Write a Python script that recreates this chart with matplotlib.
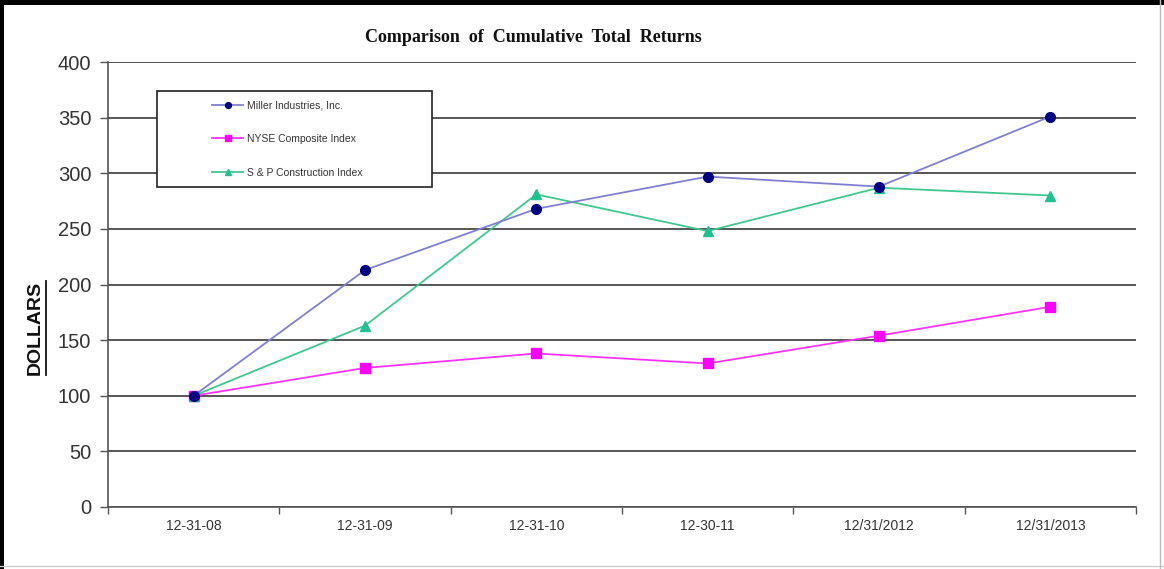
import matplotlib
matplotlib.use("Agg")
import matplotlib.pyplot as plt
from matplotlib.patches import Rectangle
from matplotlib.lines import Line2D
import numpy as np

DATES = ["12-31-08", "12-31-09", "12-31-10", "12-30-11", "12/31/2012", "12/31/2013"]
MILLER = [100, 213, 268, 297, 288, 351]
NYSE = [100, 125, 138, 129, 154, 180]
SP_CONSTR = [100, 163, 281, 248, 287, 280]
Y_TICKS = [0, 50, 100, 150, 200, 250, 300, 350, 400]

plt.rcParams["font.family"] = ["Liberation Sans", "DejaVu Sans"]

fig = plt.figure(figsize=(11.64, 5.69), dpi=100)
fig.patch.set_facecolor("white")
ax = fig.add_axes([108 / 1164, 1 - 507 / 569, 1028 / 1164, 445 / 569])

x = np.arange(len(DATES))
ax.plot(x, MILLER, color="#8080d0", lw=1.3, marker="o", ms=7,
        mfc="#000080", mec="#000080", zorder=4, label="Miller Industries, Inc.")
ax.plot(x, NYSE, color="#ff33ff", lw=1.3, marker="s", ms=6.5,
        mfc="#ff00ff", mec="#ff00ff", zorder=3, label="NYSE Composite Index")
ax.plot(x, SP_CONSTR, color="#40c890", lw=1.3, marker="^", ms=7.5,
        mfc="#20c090", mec="#20c090", zorder=3, label="S & P Construction Index")

ax.set_xlim(-0.5, len(DATES) - 0.5)
ax.set_ylim(0, 400)
ax.set_yticks(Y_TICKS)
ax.set_yticklabels([str(v) for v in Y_TICKS], fontsize=14.5, color="#333333")
ax.set_xticks(x)
ax.set_xticklabels(DATES, fontsize=10, color="#333333")
ax.set_xticks(np.arange(-0.5, len(DATES)), minor=True)
ax.tick_params(axis="x", which="major", length=0, pad=9)
ax.tick_params(axis="x", which="minor", length=5, width=1, color="#555555", direction="out")
ax.tick_params(axis="y", length=6, width=1, color="#555555", pad=6)
ax.yaxis.grid(True, color="#555555", lw=1.4, zorder=1)
ax.set_axisbelow(True)
for s in ["top", "right"]:
    ax.spines[s].set_visible(False)
for s in ["left", "bottom"]:
    ax.spines[s].set_color("#555555")
    ax.spines[s].set_linewidth(1.2)

# legend box
frame = Rectangle((49 / 1028, 320 / 445), 275 / 1028, 96 / 445, transform=ax.transAxes,
                  facecolor="white", edgecolor="#222222", lw=1.2, zorder=5)
ax.add_patch(frame)
leg = ax.legend(loc="upper left", bbox_to_anchor=(100 / 1028, 411 / 445), frameon=False,
                fontsize=7.5, handlelength=3.0, handletextpad=0.3, labelspacing=2.3,
                borderaxespad=0, markerscale=0.6)
leg.set_zorder(6)
for t in leg.get_texts():
    t.set_color("#333333")

fig.text(533 / 1164, 1 - 38 / 569, "Comparison  of  Cumulative  Total  Returns",
         ha="center", va="center", fontsize=13, fontweight="bold",
         family="Liberation Serif", color="#111111")

ylab = fig.text(35 / 1164, 1 - 328 / 569, "DOLLARS", rotation=90, ha="center", va="center",
                fontsize=14, fontweight="bold", color="#111111")
fig.canvas.draw()
bb = ylab.get_window_extent().transformed(fig.transFigure.inverted())
fig.add_artist(Line2D([bb.x1 + 0.002, bb.x1 + 0.002], [bb.y0, bb.y1],
                      transform=fig.transFigure, color="#111111", lw=1.3))

# page border
fig.add_artist(Rectangle((0, 1 - 5 / 569), 1, 5 / 569, transform=fig.transFigure,
                         color="black", lw=0))
fig.add_artist(Rectangle((0, 0), 4 / 1164, 1, transform=fig.transFigure,
                         color="black", lw=0))
fig.add_artist(Line2D([0, 1], [3 / 569, 3 / 569], transform=fig.transFigure,
                      color="#cccccc", lw=1))
fig.add_artist(Line2D([1 - 4 / 1164, 1 - 4 / 1164], [0, 1], transform=fig.transFigure,
                      color="#bbbbbb", lw=1))

fig.savefig("out.png", dpi=100, facecolor="white")
